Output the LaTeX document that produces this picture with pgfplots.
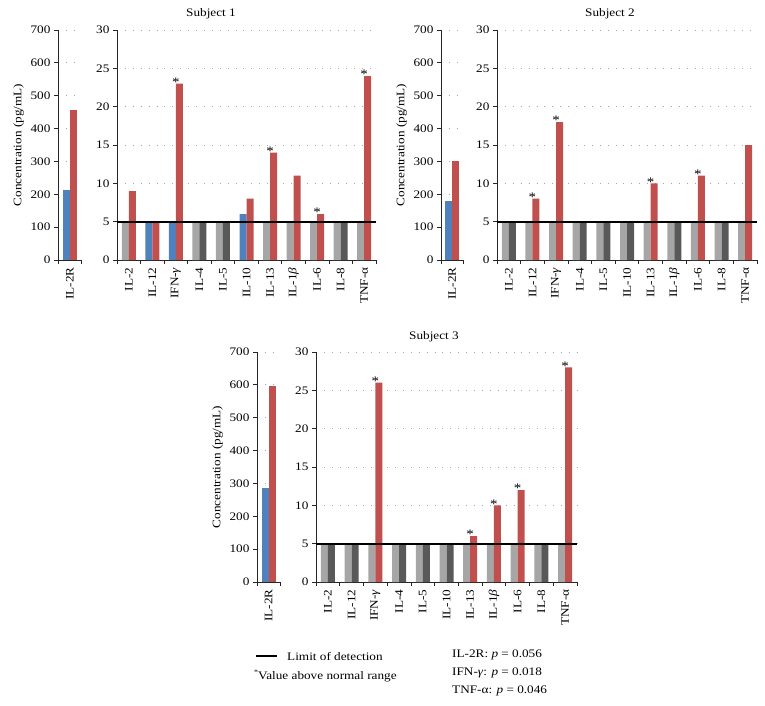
\documentclass[border=0pt]{standalone}
\usepackage{pgfplots}
\pgfplotsset{compat=1.18}
\usepackage{fontspec}
\setmainfont{Liberation Serif}[FakeStretch=1.15]
\definecolor{cblue}{HTML}{4F81BD}
\definecolor{cred}{HTML}{C0504D}
\definecolor{lgray}{HTML}{A6A6A6}
\definecolor{dgray}{HTML}{595959}
\pgfplotsset{
  common/.style={scale only axis, height=230pt, ymin=0,
    axis x line*=bottom, axis y line*=left,
    axis line style={-, black!85, line width=0.8pt},
    ymajorgrids, grid style={gray!70, line width=0.9pt, dash pattern=on 0.9pt off 7pt},
    tick align=outside, major tick length=4pt, minor tick length=4pt,
    major y tick style={black!85, line width=0.8pt},
    major x tick style={draw=none},
    minor x tick style={black!85, line width=0.8pt},
    tick label style={font=\fontsize{11.5}{13}\selectfont},
    /pgf/number format/assume math mode=true,
    xticklabel style={rotate=90, anchor=east},
    ylabel style={font=\fontsize{11.5}{13}\selectfont},
    clip=false},
  big/.style={common, ymax=30, ytick={0,5,...,30}, xmin=-0.5, xmax=10.5,
    xtick={0,...,10}, minor xtick={-0.5,0.5,...,10.5},
    xticklabels={IL-2, IL-12, IFN-\textit{γ}, IL-4, IL-5, IL-10, IL-13, IL-1\textit{β}, IL-6, IL-8, TNF-α}},
  small/.style={common, ymax=700, ytick={0,100,...,700}, xmin=-0.5, xmax=0.5,
    xtick={0}, minor xtick={-0.5,0.5}, xticklabels={IL-2R},
    ylabel={Concentration (pg/mL)}},
  lb/.style={ybar, bar width=7pt, bar shift=-3.5pt, fill=lgray, draw=none},
  lbl/.style={ybar, bar width=7pt, bar shift=-3.5pt, fill=cblue, draw=none},
  rd/.style={ybar, bar width=7pt, bar shift=3.5pt, fill=dgray, draw=none},
  rr/.style={ybar, bar width=7pt, bar shift=3.5pt, fill=cred, draw=none},
  star/.style={ybar, bar width=7pt, bar shift=3.5pt, draw=none, fill=none,
    nodes near coords={*},
    every node near coord/.append style={font=\fontsize{13}{13}\selectfont, inner sep=0pt, anchor=south, yshift=-3pt}},
  lod/.style={sharp plot, black, line width=1.8pt, mark=none},
}
\begin{document}
\begin{tikzpicture}
% ---------------- Subject 1 ----------------
\begin{axis}[small, at={(58pt,-260pt)}, anchor=south west, width=23.4pt]
\addplot[lbl] coordinates {(0,212)};
\addplot[rr] coordinates {(0,456)};
\end{axis}
\begin{axis}[big, at={(117pt,-260pt)}, anchor=south west, width=259pt]
\addplot[lb] coordinates {(0,5) (3,5) (4,5) (6,5) (7,5) (8,5) (9,5) (10,5)};
\addplot[lbl] coordinates {(1,5) (2,5) (5,6)};
\addplot[rd] coordinates {(3,5) (4,5) (9,5)};
\addplot[rr] coordinates {(0,9) (1,5) (2,23) (5,8) (6,14) (7,11) (8,6) (10,24)};
\addplot[star] coordinates {(2,23) (6,14) (8,6) (10,24)};
\addplot[lod] coordinates {(-0.5,5) (10.5,5)};
\end{axis}
\node[font=\fontsize{11.5}{13}\selectfont] at (211pt,-14pt) {Subject 1};
% ---------------- Subject 2 ----------------
\begin{axis}[small, at={(441pt,-260pt)}, anchor=south west, width=22pt]
\addplot[lbl] coordinates {(0,180)};
\addplot[rr] coordinates {(0,300)};
\end{axis}
\begin{axis}[big, at={(497pt,-260pt)}, anchor=south west, width=260pt]
\addplot[lb] coordinates {(0,5) (1,5) (2,5) (3,5) (4,5) (5,5) (6,5) (7,5) (8,5) (9,5) (10,5)};
\addplot[rd] coordinates {(0,5) (3,5) (4,5) (5,5) (7,5) (9,5)};
\addplot[rr] coordinates {(1,8) (2,18) (6,10) (8,11) (10,15)};
\addplot[star] coordinates {(1,8) (2,18) (6,10) (8,11)};
\addplot[lod] coordinates {(-0.5,5) (10.5,5)};
\end{axis}
\node[font=\fontsize{11.5}{13}\selectfont] at (610pt,-14pt) {Subject 2};
% ---------------- Subject 3 ----------------
\begin{axis}[small, at={(257pt,-582pt)}, anchor=south west, width=23pt]
\addplot[lbl] coordinates {(0,287)};
\addplot[rr] coordinates {(0,596)};
\end{axis}
\begin{axis}[big, at={(316pt,-582pt)}, anchor=south west, width=261pt]
\addplot[lb] coordinates {(0,5) (1,5) (2,5) (3,5) (4,5) (5,5) (6,5) (7,5) (8,5) (9,5) (10,5)};
\addplot[rd] coordinates {(0,5) (1,5) (3,5) (4,5) (5,5) (9,5)};
\addplot[rr] coordinates {(2,26) (6,6) (7,10) (8,12) (10,28)};
\addplot[star] coordinates {(2,26) (6,6) (7,10) (8,12) (10,28)};
\addplot[lod] coordinates {(-0.5,5) (10.5,5)};
\end{axis}
\node[font=\fontsize{11.5}{13}\selectfont] at (434pt,-337pt) {Subject 3};
% ---------------- Legend ----------------
\begin{scope}[every node/.style={font=\fontsize{11.5}{13}\selectfont, inner sep=0pt}]
\draw[line width=1.8pt] (256pt,-656pt) -- (277pt,-656pt);
\node[anchor=west] at (287pt,-656pt) {Limit of detection};
\node[anchor=west] at (254pt,-676pt) {\raisebox{0.8ex}{\fontsize{7}{7}\selectfont *}Value above normal range};
\node[anchor=west] at (452pt,-655pt) {IL-2R: \textit{p} = 0.056};
\node[anchor=west] at (452pt,-673pt) {IFN-\textit{γ}: \textit{p} = 0.018};
\node[anchor=west] at (452pt,-691pt) {TNF-α: \textit{p} = 0.046};
\end{scope}
\pgfresetboundingbox
\useasboundingbox (0,0) rectangle (765pt,-706pt);
\end{tikzpicture}
\end{document}
